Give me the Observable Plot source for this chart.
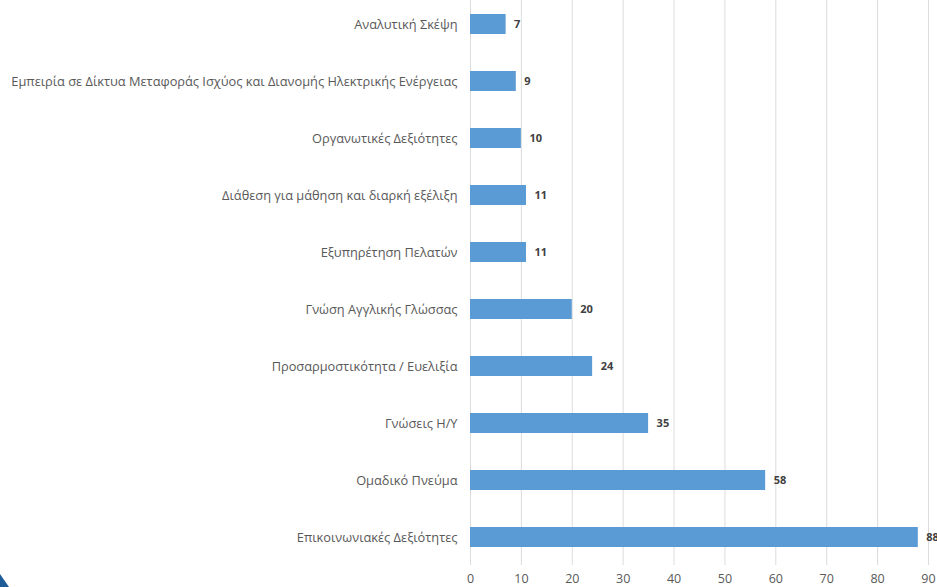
<!DOCTYPE html>
<html>
<head>
<meta charset="utf-8">
<script src="https://cdn.jsdelivr.net/npm/d3@7"></script>
<script src="https://cdn.jsdelivr.net/npm/@observablehq/plot@0.6"></script>
<style>
  html, body { margin: 0; padding: 0; background: #fff; overflow: hidden; }
  #wrap { position: relative; width: 937px; height: 587px; }
  #corner { position: absolute; left: 0; bottom: 0; width: 0; height: 0;
    border-bottom: 13px solid #1d5c96; border-right: 9px solid transparent; }
</style>
</head>
<body>
<div id="wrap"><div id="corner"></div></div>
<script>
const categories = [
  "Αναλυτική Σκέψη",
  "Εμπειρία σε Δίκτυα Μεταφοράς Ισχύος και Διανομής Ηλεκτρικής Ενέργειας",
  "Οργανωτικές Δεξιότητες",
  "Διάθεση για μάθηση και διαρκή εξέλιξη",
  "Εξυπηρέτηση Πελατών",
  "Γνώση Αγγλικής Γλώσσας",
  "Προσαρμοστικότητα / Ευελιξία",
  "Γνώσεις Η/Υ",
  "Ομαδικό Πνεύμα",
  "Επικοινωνιακές Δεξιότητες"
];
const values = [7, 9, 10, 11, 11, 20, 24, 35, 58, 88];
const xTicks = [0, 10, 20, 30, 40, 50, 60, 70, 80, 90];

const data = categories.map((c, i) => ({category: c, value: values[i]}));

const chart = Plot.plot({
  width: 937,
  height: 587,
  marginLeft: 470,
  marginRight: 9,
  marginTop: 0,
  marginBottom: 27,
  style: {fontFamily: "'Open Sans', sans-serif", background: "#fff", overflow: "visible"},
  x: {domain: [0, 90], ticks: xTicks, label: null},
  y: {domain: categories, paddingInner: 0.65, paddingOuter: 0.228, label: null},
  marks: [
    Plot.ruleX(xTicks, {x: d => d, stroke: "#dcdcdc", strokeOpacity: 1}),
    Plot.barX(data, {x: "value", y: "category", fill: "#5b9bd5"}),
    Plot.text(data, {x: "value", y: "category", text: d => String(d.value), textAnchor: "start", dx: 8,
      fontWeight: "bold", fontSize: 11, fill: "#404040"}),
    Plot.axisX({ticks: xTicks, tickSize: 5, tickPadding: 9, stroke: "#dcdcdc", fontSize: 12.5, color: "#595959", label: null}),
    Plot.axisY({tickSize: 0, tickPadding: 13, fontSize: 12.8, color: "#595959", label: null})
  ]
});
document.getElementById("wrap").prepend(chart);
</script>
</body>
</html>
